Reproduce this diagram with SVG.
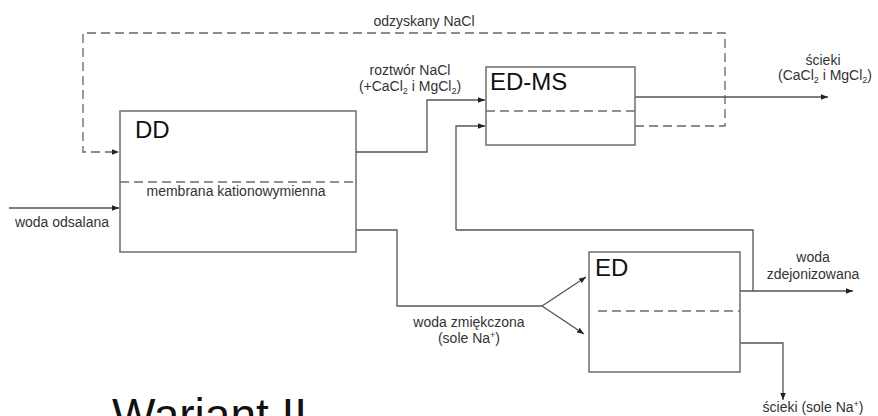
<svg xmlns="http://www.w3.org/2000/svg" width="878" height="416" viewBox="0 0 878 416">
<defs>
<marker id="ah" viewBox="0 0 10 8" refX="10" refY="4" markerWidth="7" markerHeight="5.6" markerUnits="userSpaceOnUse" orient="auto">
<path d="M0,0 L10,4 L0,8 Z" fill="#222"/>
</marker>
<style>
.box{fill:#fff;stroke:#6e6e6e;stroke-width:1.5}
.mem{stroke:#6e6e6e;stroke-width:1.3;stroke-dasharray:9 5;fill:none}
.ln{fill:none;stroke:#555;stroke-width:1.3}
.dl{fill:none;stroke:#666;stroke-width:1.3;stroke-dasharray:9 5}
.t{font-family:"Liberation Sans",Arial,sans-serif;font-size:14px;fill:#333;text-anchor:middle}
.big{font-family:"Liberation Sans",Arial,sans-serif;font-size:24px;fill:#111}
.sub{font-size:9px}
</style>
</defs>
<rect width="878" height="416" fill="#fff"/>
<g id="connectors">
<path class="dl" d="M635,126 H725 V33 H83 V152 H119" marker-end="url(#ah)"/>
<path class="ln" d="M9,208 H119" marker-end="url(#ah)"/>
<path class="ln" d="M356,152 H427 V100 H485" marker-end="url(#ah)"/>
<path class="ln" d="M456,230 V126 H485" marker-end="url(#ah)"/>
<path class="ln" d="M456,230 H753 V291"/>
<path class="ln" d="M635,97 H828" marker-end="url(#ah)"/>
<path class="ln" d="M356,230 H397 V306 H542"/>
<path class="ln" d="M542,306 L586,277" marker-end="url(#ah)"/>
<path class="ln" d="M542,306 L584,334" marker-end="url(#ah)"/>
<path class="ln" d="M740,291 H853" marker-end="url(#ah)"/>
<path class="ln" d="M740,343 H783 V400" marker-end="url(#ah)"/>
</g>
<g id="DD">
<rect class="box" x="120" y="111" width="236" height="141"/>
<line class="mem" x1="120" y1="182" x2="356" y2="182"/>
<text class="big" x="135" y="138">DD</text>
<text class="t" x="236" y="196">membrana kationowymienna</text>
</g>
<g id="ED-MS">
<rect class="box" x="486" y="67" width="149" height="78"/>
<line class="mem" x1="486" y1="111" x2="635" y2="111"/>
<text class="big" x="490" y="90">ED-MS</text>
</g>
<g id="ED">
<rect class="box" x="589" y="252" width="151" height="120"/>
<line class="mem" x1="598" y1="311" x2="740" y2="311"/>
<text class="big" x="595" y="276">ED</text>
</g>
<g id="labels">
<text class="t" x="424" y="26">odzyskany NaCl</text>
<text class="t" x="410" y="75">roztwór NaCl</text>
<text class="t" x="410" y="91">(+CaCl<tspan class="sub" dy="3">2</tspan><tspan dy="-3"> i MgCl</tspan><tspan class="sub" dy="3">2</tspan><tspan dy="-3">)</tspan></text>
<text class="t" x="823" y="65">ścieki</text>
<text class="t" x="825" y="80">(CaCl<tspan class="sub" dy="3">2</tspan><tspan dy="-3"> i MgCl</tspan><tspan class="sub" dy="3">2</tspan><tspan dy="-3">)</tspan></text>
<text class="t" x="62" y="227">woda odsalana</text>
<text class="t" x="813" y="262">woda</text>
<text class="t" x="813" y="279">zdejonizowana</text>
<text class="t" x="469" y="327">woda zmiękczona</text>
<text class="t" x="469" y="343">(sole Na<tspan class="sub" dy="-5">+</tspan><tspan dy="5">)</tspan></text>
<text class="t" x="813" y="412">ścieki (sole Na<tspan class="sub" dy="-5">+</tspan><tspan dy="5">)</tspan></text>
<text font-family="'Liberation Sans',Arial,sans-serif" font-size="46" fill="#111" x="112" y="431">Wariant II</text>
</g>
</svg>
